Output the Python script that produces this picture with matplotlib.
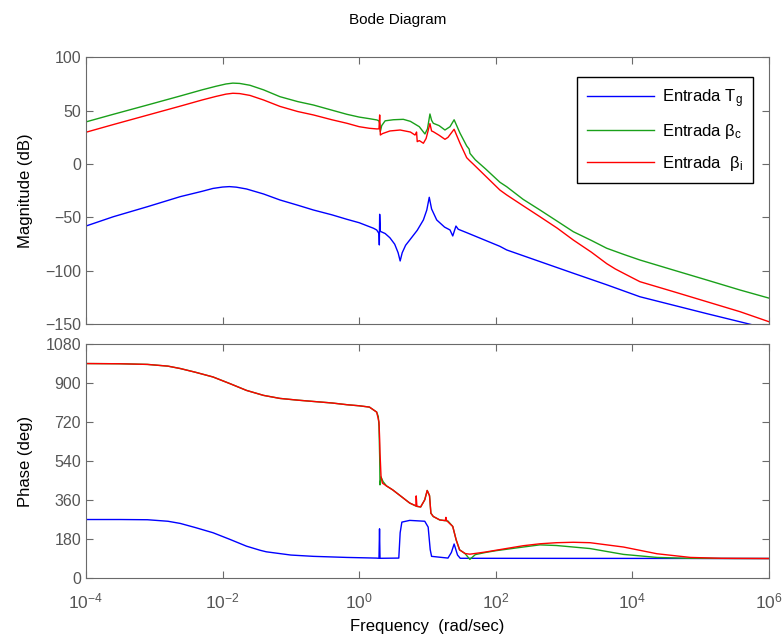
import numpy as np
import matplotlib
matplotlib.use("Agg")
import matplotlib.pyplot as plt

plt.rcParams["font.family"] = ["Liberation Sans", "DejaVu Sans"]
plt.rcParams["mathtext.fontset"] = "custom"
plt.rcParams["mathtext.rm"] = "Liberation Sans"
plt.rcParams["mathtext.it"] = "Liberation Sans:italic"

# --- magnitude (dB), frequencies given as log10(rad/s) ---
mag_tg_lw = [-4.0, -3.6, -3.1, -2.62, -2.3, -2.14, -2.0, -1.9, -1.8, -1.65, -1.4, -1.16,
             -0.9, -0.67, -0.4, -0.18, 0.0, 0.21, 0.256, 0.29, 0.295, 0.30, 0.31,
             0.38, 0.45, 0.52, 0.57, 0.60, 0.63, 0.68, 0.74, 0.85, 0.94, 0.99, 1.026,
             1.06, 1.135, 1.25, 1.33, 1.37, 1.417, 1.45, 1.574, 2.06, 2.16, 2.647,
             3.135, 3.624, 4.11, 5.088, 5.77, 6.0]
mag_tg = [-58.0, -49.3, -39.9, -30.5, -25.5, -22.8, -21.5, -21.1, -21.6, -23.3, -28.0, -33.6,
          -38.5, -43.0, -47.5, -51.7, -54.9, -60.1, -61.7, -65.0, -75.7, -47.0, -63.0,
          -65.0, -69.0, -75.0, -83.0, -90.7, -83.0, -76.0, -71.1, -62.0, -52.3, -43.0, -31.1,
          -42.0, -52.3, -59.0, -61.7, -67.3, -58.0, -61.0, -64.2, -77.0, -80.4, -91.3,
          -102.2, -113.0, -124.2, -140.0, -150.7, -153.0]

mag_bc_lw = [-4.0, -3.6, -3.1, -2.6, -2.3, -2.1, -1.95, -1.85, -1.75, -1.6, -1.4, -1.16,
             -0.9, -0.67, -0.4, -0.18, 0.0, 0.15, 0.26, 0.29, 0.30, 0.31, 0.33, 0.38,
             0.5, 0.646, 0.75, 0.88, 0.963, 1.0, 1.036, 1.06, 1.085, 1.17, 1.256, 1.33,
             1.39, 1.476, 1.574, 1.61, 1.622, 1.7, 1.85, 2.06, 2.16, 2.4, 2.647, 2.9,
             3.135, 3.4, 3.624, 3.87, 4.11, 4.6, 5.088, 5.576, 6.0]
mag_bc = [39.5, 46.6, 55.3, 64.1, 69.5, 72.8, 75.0, 75.8, 75.5, 73.8, 69.5, 63.1,
          58.5, 55.3, 50.5, 46.6, 44.0, 42.5, 41.3, 40.4, 38.0, 30.5, 36.0, 40.5,
          41.5, 41.9, 40.0, 35.0, 28.2, 33.0, 46.9, 41.0, 38.2, 36.0, 31.9, 35.0,
          41.5, 29.0, 17.0, 14.0, 10.0, 4.0, -4.5, -17.0, -21.2, -33.0, -43.0, -53.5,
          -63.3, -71.5, -78.8, -84.5, -89.8, -99.2, -108.5, -117.9, -125.5]

mag_bi_lw = [-4.0, -3.6, -3.1, -2.6, -2.3, -2.1, -1.95, -1.85, -1.75, -1.6, -1.4, -1.16,
             -0.9, -0.67, -0.4, -0.18, 0.0, 0.15, 0.26, 0.29, 0.30, 0.31, 0.34, 0.45,
             0.60, 0.75, 0.817, 0.83, 0.84, 0.85, 0.88, 0.94, 0.98, 1.036, 1.06, 1.085,
             1.17, 1.256, 1.30, 1.39, 1.476, 1.574, 1.62, 1.67, 2.06, 2.16, 2.4, 2.647,
             2.9, 3.135, 3.4, 3.624, 3.75, 3.87, 4.0, 4.11, 4.6, 5.088, 5.576, 6.0]
mag_bi = [29.8, 37.0, 45.8, 54.6, 60.0, 63.3, 65.5, 66.3, 66.0, 64.3, 60.0, 54.0,
          49.2, 46.0, 41.5, 38.2, 35.0, 33.5, 32.9, 33.0, 46.0, 27.2, 28.5, 31.0,
          31.9, 30.0, 27.2, 28.5, 30.0, 21.0, 22.0, 19.5, 24.0, 37.9, 31.0, 30.3,
          27.0, 23.2, 25.0, 32.6, 19.5, 6.0, 3.0, 0.0, -24.3, -28.9, -39.0, -49.3,
          -60.0, -71.1, -82.5, -93.2, -98.2, -102.2, -106.5, -110.1, -119.4, -128.8, -138.2, -147.6]

# --- phase (deg) ---
ph_tg_lw = [-4.0, -3.5, -3.1, -2.8, -2.62, -2.4, -2.14, -1.89, -1.65, -1.45, -1.36, -1.0,
            -0.67, -0.18, 0.25, 0.29, 0.298, 0.305, 0.58, 0.60, 0.625, 0.74, 0.96, 1.01,
            1.04, 1.06, 1.30, 1.35, 1.39, 1.44, 1.48, 6.0]
ph_tg = [270, 270, 269, 262, 252, 233, 209, 178, 147, 128, 121, 106,
         100, 95, 92, 91, 227, 91, 92, 209, 258, 266, 262, 235,
         131, 100, 92, 118, 157, 106, 91, 90]

ph_bc_lw = [-4.0, -3.5, -3.1, -2.8, -2.62, -2.4, -2.14, -1.89, -1.65, -1.4, -1.16, -0.9,
            -0.67, -0.4, -0.18, 0.0, 0.15, 0.256, 0.28, 0.29, 0.30, 0.305, 0.32, 0.35,
            0.40, 0.49, 0.646, 0.74, 0.84, 0.90, 0.96, 0.996, 1.03, 1.05, 1.085, 1.18,
            1.30, 1.37, 1.42, 1.47, 1.55, 1.62, 1.70, 1.85, 2.0, 2.4, 2.646, 2.89, 3.38,
            3.87, 4.36, 4.8, 5.5, 6.0]
ph_bc = [990, 989, 986, 978, 967, 950, 928, 897, 866, 843, 829, 821,
         815, 808, 800, 795, 789, 766, 745, 700, 560, 430, 466, 445,
         425, 407, 369, 346, 331, 328, 361, 404, 380, 299, 284, 268,
         263, 238, 176, 130, 113, 86, 108, 118, 126, 143, 153, 150, 136,
         109, 95, 91, 90, 90]

ph_bi_lw = [-4.0, -3.5, -3.1, -2.8, -2.62, -2.4, -2.14, -1.89, -1.65, -1.4, -1.16, -0.9,
            -0.67, -0.4, -0.18, 0.0, 0.15, 0.256, 0.29, 0.30, 0.305, 0.32, 0.34, 0.40,
            0.49, 0.646, 0.74, 0.83, 0.835, 0.845, 0.90, 0.96, 0.996, 1.03, 1.05, 1.085,
            1.18, 1.26, 1.27, 1.28, 1.37, 1.42, 1.47, 1.55, 1.62, 1.85, 2.0, 2.4, 2.646,
            2.89, 3.135, 3.38, 3.87, 4.36, 4.85, 5.3, 6.0]
ph_bi = [990, 989, 986, 978, 967, 950, 928, 897, 866, 843, 829, 821,
         815, 808, 800, 795, 789, 766, 720, 640, 577, 469, 438, 425,
         407, 369, 346, 333, 379, 331, 328, 361, 404, 380, 299, 284,
         268, 265, 280, 265, 238, 176, 130, 113, 110, 120, 128, 149, 158,
         163, 165, 163, 143, 112, 95, 91, 90]

labels = ["Entrada T$_\\mathrm{g}$", "Entrada \u03b2$_\\mathrm{c}$",
          "Entrada  \u03b2$_\\mathrm{i}$"]
colors = ["#0000ff", "#1aa01a", "#ff0000"]

fig = plt.figure(figsize=(7.83, 6.37), dpi=100)
ax1 = fig.add_axes([0.1098, 0.4909, 0.8723, 0.4192])
ax2 = fig.add_axes([0.1098, 0.0926, 0.8723, 0.3673])

mags = [(mag_tg_lw, mag_tg), (mag_bc_lw, mag_bc), (mag_bi_lw, mag_bi)]
phs = [(ph_tg_lw, ph_tg), (ph_bc_lw, ph_bc), (ph_bi_lw, ph_bi)]
for (lw, m), (plw, p), c, lab in zip(mags, phs, colors, labels):
    ax1.semilogx(10.0 ** np.array(lw), m, color=c, lw=1.0, label=lab)
    ax2.semilogx(10.0 ** np.array(plw), p, color=c, lw=1.0)

edge = "#6a6a6a"
for ax in (ax1, ax2):
    ax.set_xlim(1e-4, 1e6)
    ax.set_xticks([1e-4, 1e-2, 1e0, 1e2, 1e4, 1e6])
    ax.minorticks_off()
    ax.tick_params(which="both", direction="in", top=True, right=True, length=5,
                   colors=edge, labelcolor="#555555", labelsize=11.5)
    ax.tick_params(axis="x", pad=10, labelsize=12.5)
    for s in ax.spines.values():
        s.set_color(edge)

ax1.set_ylim(-150, 100)
ax1.set_yticks(range(-150, 101, 50))
ax1.tick_params(labelbottom=False)
ax1.set_ylabel("Magnitude (dB)", fontsize=12)

ax2.set_ylim(0, 1080)
ax2.set_yticks(range(0, 1081, 180))
ax2.set_ylabel("Phase (deg)", fontsize=12)
ax2.set_xlabel("Frequency  (rad/sec)", fontsize=12, labelpad=5)
ax1.yaxis.set_label_coords(-0.077, 0.5)
ax2.yaxis.set_label_coords(-0.077, 0.5)

leg = ax1.legend(loc="upper right", bbox_to_anchor=(0.976, 0.926), borderaxespad=0,
                 fontsize=12, handlelength=4.0, handletextpad=0.45, fancybox=False,
                 framealpha=1, borderpad=0.6, labelspacing=0.75)
leg.get_frame().set_edgecolor("black")
leg.get_frame().set_linewidth(1.0)

fig.text(0.508, 0.968, "Bode Diagram", ha="center", va="center", fontsize=11)

fig.savefig("out.png", dpi=100)
